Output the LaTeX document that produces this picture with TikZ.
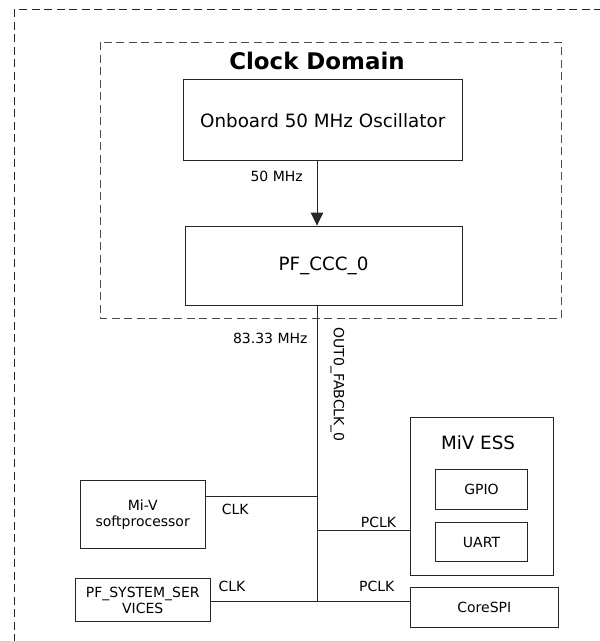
\documentclass[tikz,border=0pt]{standalone}
\usepackage{fontspec}
\setmainfont{DejaVu Sans}
\usetikzlibrary{arrows.meta}

\begin{document}
\begin{tikzpicture}[x=1pt,y=-1pt]
	\tikzset{blk/.style={draw=black!85,line width=1pt,inner sep=0pt,align=center,font=\fontsize{14}{16}\selectfont},
		big/.style={font=\fontsize{18.3}{22}\selectfont},
		lbl/.style={inner sep=0pt,font=\fontsize{14}{16}\selectfont},
		wire/.style={draw=black!85,line width=1pt},
		dashbox/.style={draw=black!70,line width=1pt,dash pattern=on 8pt off 4.5pt}}
	\useasboundingbox (0,0) rectangle (600,641);
	\begin{scope}
		\clip (0,0) rectangle (600,641);
		\draw[dashbox,draw=black!85] (14.3,9.3) rectangle (640,690);
	\end{scope}
	\draw[dashbox] (100,42.3) rectangle (561,318.3);
	\node[inner sep=0pt,font=\fontsize{22.9}{26}\selectfont\bfseries] (title) at (317,61) {Clock Domain};
	
	\node[blk,big,minimum width=278.7pt,minimum height=80.7pt] (osc) at (322.7,120.3) {Onboard 50 MHz Oscillator};
	\node[blk,big,minimum width=277pt,minimum height=79.3pt] (ccc) at (323.5,265.7) {PF\_CCC\_0};
	\node[blk,minimum width=125.3pt,minimum height=68.4pt] (miv) at (142.7,514.5) {Mi-V\\softprocessor};
	\node[blk,minimum width=135.3pt,minimum height=42.6pt] (sys) at (142.7,600) {PF\_SYSTEM\_SER\\VICES};
	\node[blk,minimum width=143.3pt,minimum height=157.7pt] (ess) at (482.3,496.2) {};
	\node[big,inner sep=0pt] (esst) at (478,442.7) {MiV ESS};
	\node[blk,minimum width=92.4pt,minimum height=39.6pt] (gpio) at (481.5,489.5) {GPIO};
	\node[blk,minimum width=92.4pt,minimum height=39.4pt] (uart) at (481.5,542) {UART};
	\node[blk,minimum width=148pt,minimum height=39.7pt] (spi) at (484.3,607.8) {CoreSPI};
	
	\coordinate (jclk) at (317,496);
	\coordinate (jess) at (317,530.7);
	\coordinate (jbot) at (317,601.3);
	
	\draw[wire,-{Triangle[length=13pt,width=12.5pt]}] (osc.south -| jclk) -- (ccc.north -| jclk);
	\draw[wire] (ccc.south -| jbot) -- (jbot);
	\draw[wire] (miv.east |- jclk) -- (jclk);
	\draw[wire] (jess) -- (ess.west |- jess);
	\draw[wire] (sys.east |- jbot) -- (spi.west |- jbot);
	
	\node[lbl,anchor=east] (f50) at (303,176.7) {50 MHz};
	\node[lbl,anchor=east] (f83) at (307.7,338) {83.33 MHz};
	\node[lbl,rotate=-90] (fab) at (337.5,384.7) {OUT0\_FABCLK\_0};
	\node[lbl,anchor=west] (clk1) at (221.7,509.3) {CLK};
	\node[lbl,anchor=west] (clk2) at (218.3,586) {CLK};
	\node[lbl,anchor=west] (pclk1) at (360.7,522) {PCLK};
	\node[lbl,anchor=west] (pclk2) at (359,586) {PCLK};
\end{tikzpicture}
\end{document}
